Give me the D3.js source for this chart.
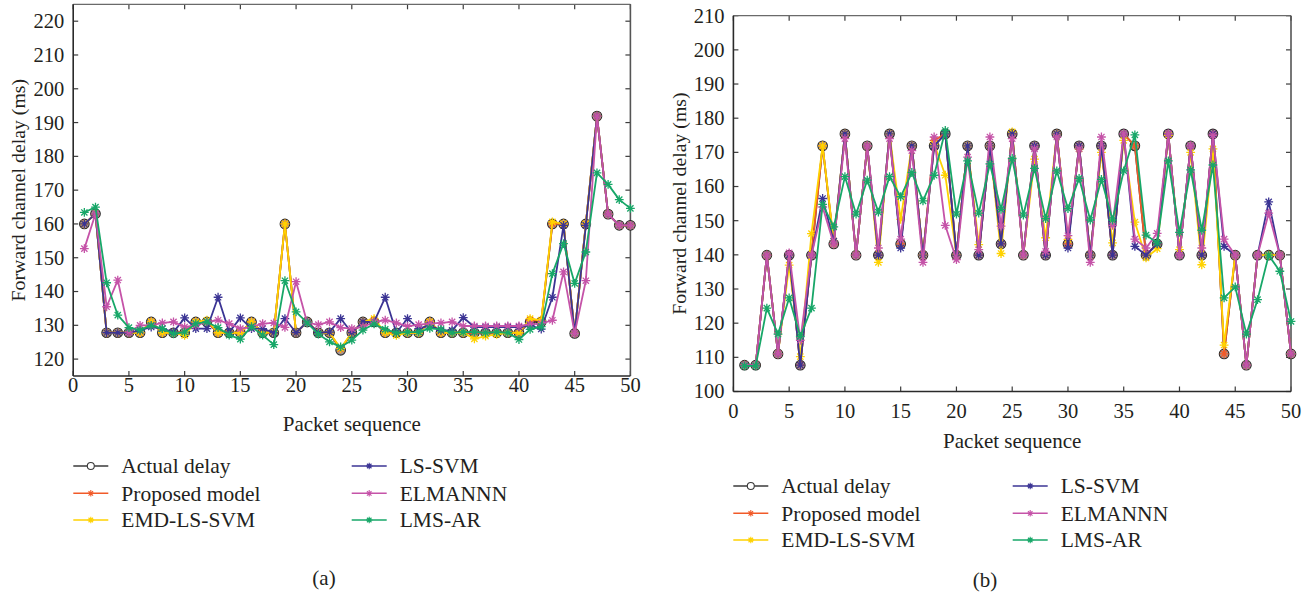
<!DOCTYPE html>
<html><head><meta charset="utf-8">
<script src="https://cdn.jsdelivr.net/npm/d3@7/dist/d3.min.js"></script>
<style>
body{margin:0;background:#fff;}
svg text{font-family:"Liberation Serif","Times New Roman",serif;fill:#231f20;}
</style></head>
<body><svg id="c" width="1316" height="595"></svg>
<script>
const packets = d3.range(1, 51);
const seriesNames = ["Actual delay","Proposed model","EMD-LS-SVM","LS-SVM","ELMANNN","LMS-AR"];
const seriesColors = ["#3a3a3a","#f15a29","#ffd200","#3b3494","#c553a8","#17a768"];
const xTicks = [0,5,10,15,20,25,30,35,40,45,50];
const yTicksA = [120,130,140,150,160,170,180,190,200,210,220];
const yTicksB = [100,110,120,130,140,150,160,170,180,190,200,210];

// Panel (a)
const actualA = [160,163,127.8,127.8,127.8,127.8,131,127.8,127.8,127.8,131,131,127.8,127.8,127.8,131,127.8,127.8,160,127.8,131,127.8,127.8,122.6,127.8,131,131,127.8,127.8,127.8,127.8,131,127.8,127.8,127.8,127.8,127.8,127.8,127.8,127.8,131,131,160,160,127.6,160,191.9,162.9,159.6,159.6];
const proposedA = [160,163,127.8,127.8,127.8,127.8,131,127.8,127.8,128,131,131,127.8,127.8,127.8,131,127.8,127.8,160,127.8,131,127.8,127.8,123,127.8,131,131.5,127.8,127.8,127.8,127.8,131,127.8,127.8,127.8,127.8,127.8,127.8,127.8,127.8,131.5,131.5,160,160,127.6,160,191.9,162.9,159.6,159.6];
const emdA = [160,163,127.8,127.8,127.8,127.8,131,127.8,127.8,127,131,131.5,127.8,127.8,127.8,131,127.8,128,160,127.8,131,127.8,127.8,123.2,127.8,131,132,127.8,127,127.8,127.8,131,127.8,127.8,127.8,126,126.8,127.3,127.8,127.8,132,131.5,160.6,160,127.6,160,191.9,162.9,159.6,159.6];
const lssvmA = [160,163,127.8,127.8,127.8,128.5,129.5,129,128,132.2,129,129,138.3,128,132.2,129,129,127.8,132,127.8,131,127.8,128,132,127.8,131,131,138.3,127.8,132,129,130,128.5,128.5,132.3,129.5,129.5,129.5,129.5,129.5,130,128.9,138.3,159.6,127.6,159.6,191.9,162.9,159.6,159.6];
const elmanA = [152.7,163,135.5,143.4,128,130,130,130.7,131,129.5,130,131,131.5,130.5,129,129.5,130.5,130.7,129.4,142.9,130.7,130.2,131,129.3,129,129.5,131,131.5,130.7,129.7,130.2,130.5,130.7,131,129.8,129.8,129.8,129.8,129.8,129.8,130.3,130.5,131.5,145.8,127.6,143.2,191.9,162.9,159.6,159.6];
const lmsA = [163.4,165,142.6,133,129.3,128.6,130,129,127.5,128,130.5,131,129.3,127.1,125.9,129.6,127.1,124.3,143.2,134,130.7,127.4,125.1,123.6,125.6,128.6,130.4,128.8,127.8,128,128,129.1,128.8,127.8,128,128,127.8,128,127.8,125.8,128.8,129.6,145.3,154.2,142.4,151.7,175.1,171.7,167.2,164.6];

// Panel (b)
const actualB = [107.7,107.7,139.9,111,139.9,107.7,139.9,171.9,143.2,175.4,139.9,171.9,139.9,175.4,143.2,171.9,139.9,171.9,175.4,139.9,171.9,139.9,171.9,143.2,175.4,139.9,171.9,139.9,175.4,143.2,171.9,139.9,171.9,139.9,175.4,171.9,139.9,143.2,175.4,139.9,171.9,139.9,175.4,111,139.9,107.7,139.9,139.9,139.9,111];
const proposedB = [107.7,107.7,139.9,111,139.9,107.7,139.9,171.9,143.2,175.4,139.9,171.9,139.9,175.4,143.2,171.9,139.9,173.5,175.4,139.9,171.9,139.9,171.9,143.2,175.4,139.9,171.9,139.9,175.4,143.2,171.9,139.9,171.9,139.9,175.4,171.9,139.9,143.2,175.4,139.9,171.9,139.9,175.4,111,139.9,107.7,139.9,139.9,139.9,111];
const emdB = [107.7,107.7,139.9,111,137,110.2,146.2,171.9,144,175.4,139.9,171.9,137.8,175.4,150.4,171.9,139.9,172.5,163.3,140,171.9,143,171.9,140.4,176,139.9,168,145,175.4,144.5,171,139.9,170,143.5,173.5,149.6,139.1,141.8,175,141.5,170,137.1,171,113.6,139.9,107.7,139.9,139.9,139.9,111];
const lssvmB = [107.7,107.7,139.9,111,139.9,107.7,139.9,156.5,144,175.4,139.9,171.9,139.9,175.4,142,171.9,139.9,171.9,175.4,139.9,171.9,139.9,171.9,143.2,175.4,139.9,171.9,139.9,175.4,142,171.9,139.9,171.9,139.9,175.4,142.5,139.9,143.2,175.4,139.9,171.9,139.9,175.4,142.5,139.9,107.7,139.9,155.5,139.9,111];
const elmanB = [107.7,107.7,139.9,111,140.6,115,139.9,154,143.2,174,139.9,171.9,142,174,144.6,170.5,137.8,174.5,148.6,138.6,168.6,141.5,174.5,148.4,174,139.9,171,141,174.5,145.6,171,137.8,174.5,148.6,175.4,144.6,142,146.3,175.4,139.9,171.9,142,175,144.6,139.9,107.7,139.9,152.2,139.9,111];
const lmsB = [107.5,107.5,124.4,116.8,127.4,116.1,124.4,154.8,148.2,162.9,151.9,161.9,152.5,162.9,157,164.1,155.8,163.3,176.4,151.9,167.5,152.2,166.6,153.3,168.2,151.6,165.3,150.6,164.6,153.5,162.4,150.2,162.1,150.2,164.6,175.1,145.8,143.5,167.5,146.6,164.9,147.2,166.3,127.4,130.6,116.8,126.9,139.9,135.2,120.5];

const svg = d3.select("#c");
const FS_TICK = 20.5, FS_LEG = 21.5, FS_XT = 21, FS_YT = 19.8;

function star(g, x, y, r, color, w){
  const p = d3.path();
  const d = r*0.7071;
  p.moveTo(x-r,y); p.lineTo(x+r,y);
  p.moveTo(x,y-r); p.lineTo(x,y+r);
  p.moveTo(x-d,y-d); p.lineTo(x+d,y+d);
  p.moveTo(x-d,y+d); p.lineTo(x+d,y-d);
  g.append("path").attr("d", p.toString()).attr("stroke", color).attr("stroke-width",w||1.2).attr("fill","none");
}

function panel(cfg){
  const g = svg.append("g");
  const x = d3.scaleLinear().domain([0,50]).range([cfg.x0, cfg.x1]);
  const y = d3.scaleLinear().domain(cfg.ydom).range([cfg.y0, cfg.y1]);
  const frame = "#3c3c3c";
  const tl = 5;
  cfg.xt.forEach(t=>{
    g.append("line").attr("x1",x(t)).attr("x2",x(t)).attr("y1",cfg.y0).attr("y2",cfg.y0-tl).attr("stroke",frame).attr("stroke-width",1.2);
    g.append("line").attr("x1",x(t)).attr("x2",x(t)).attr("y1",cfg.y1).attr("y2",cfg.y1+tl).attr("stroke",frame).attr("stroke-width",1.2);
    g.append("text").attr("x",x(t)).attr("y",cfg.xlabY).attr("text-anchor","middle").attr("font-size",FS_TICK).text(t);
  });
  cfg.yt.forEach(t=>{
    g.append("line").attr("x1",cfg.x0).attr("x2",cfg.x0+tl).attr("y1",y(t)).attr("y2",y(t)).attr("stroke",frame).attr("stroke-width",1.2);
    g.append("line").attr("x1",cfg.x1).attr("x2",cfg.x1-tl).attr("y1",y(t)).attr("y2",y(t)).attr("stroke",frame).attr("stroke-width",1.2);
    g.append("text").attr("x",cfg.x0-9).attr("y",y(t)).attr("dy","0.34em").attr("text-anchor","end").attr("font-size",FS_TICK).text(t);
  });
  g.append("line").attr("x1",cfg.x0).attr("x2",cfg.x1).attr("y1",cfg.y1).attr("y2",cfg.y1).attr("stroke","#6a6a6a").attr("stroke-width",1.3);
  g.append("line").attr("x1",cfg.x1).attr("x2",cfg.x1).attr("y1",cfg.y1).attr("y2",cfg.y0).attr("stroke","#555").attr("stroke-width",1.6);
  g.append("line").attr("x1",cfg.x0).attr("x2",cfg.x0).attr("y1",cfg.y1).attr("y2",cfg.y0).attr("stroke","#2a2a2a").attr("stroke-width",1.6);
  g.append("line").attr("x1",cfg.x0).attr("x2",cfg.x1).attr("y1",cfg.y0).attr("y2",cfg.y0).attr("stroke","#2a2a2a").attr("stroke-width",1.6);

  const line = d3.line().x((d,i)=>x(packets[i])).y(d=>y(d));
  cfg.data.forEach((arr, si)=>{
    const col = seriesColors[si];
    g.append("path").datum(arr).attr("d", line).attr("fill","none").attr("stroke", col).attr("stroke-width", 1.8).attr("stroke-linejoin","round");
    arr.forEach((v,i)=>{
      if(si===0){
        g.append("circle").attr("cx",x(packets[i])).attr("cy",y(v)).attr("r",4.8).attr("fill","#6a5650").attr("fill-opacity",0.6).attr("stroke","#2a2a2a").attr("stroke-width",1.1);
      } else {
        star(g, x(packets[i]), y(v), 4.4, col, 1.3);
      }
    });
  });

  g.append("text").attr("x",(cfg.x0+cfg.x1)/2).attr("y",cfg.xtitleY).attr("text-anchor","middle").attr("font-size",FS_XT).text("Packet sequence");
  g.append("text").attr("transform",`translate(${cfg.ytitleX},${(cfg.y0+cfg.y1)/2}) rotate(-90)`).attr("text-anchor","middle").attr("dy","0.34em").attr("font-size",FS_YT).text("Forward channel delay (ms)");

  const lg = svg.append("g");
  seriesNames.forEach((nm, si)=>{
    const col = si<3 ? 0 : 1;
    const row = si%3;
    const lx0 = cfg.legX[col], ly = cfg.legY[row];
    const c = seriesColors[si];
    lg.append("line").attr("x1",lx0).attr("x2",lx0+35).attr("y1",ly).attr("y2",ly).attr("stroke",c).attr("stroke-width",1.6);
    if(si===0){
      lg.append("circle").attr("cx",lx0+17.5).attr("cy",ly).attr("r",3.5).attr("fill","#fff").attr("stroke",c).attr("stroke-width",1.1);
    } else {
      star(lg, lx0+17.5, ly, 3.2, c, 1.1);
    }
    lg.append("text").attr("x",lx0+48).attr("y",ly).attr("dy","0.34em").attr("font-size",FS_LEG).text(nm);
  });
  svg.append("text").attr("x",cfg.capX).attr("y",cfg.capY).attr("text-anchor","middle").attr("font-size",FS_XT).text(cfg.cap);
}

panel({x0:73.2,x1:630.4,y0:376,y1:4.3,ydom:[115,225],xt:xTicks,yt:yTicksA,xlabY:391.5,xtitleY:431,ytitleX:18,
  data:[actualA,proposedA,emdA,lssvmA,elmanA,lmsA],legX:[73.3,351.7],legY:[466,493.3,520],cap:"(a)",capX:324,capY:585});
panel({x0:733.4,x1:1291,y0:391.5,y1:15.7,ydom:[100,210],xt:xTicks,yt:yTicksB,xlabY:418,xtitleY:448,ytitleX:679,
  data:[actualB,proposedB,emdB,lssvmB,elmanB,lmsB],legX:[733.3,1012.7],legY:[486,513.3,540],cap:"(b)",capX:985,capY:587});
</script></body></html>
